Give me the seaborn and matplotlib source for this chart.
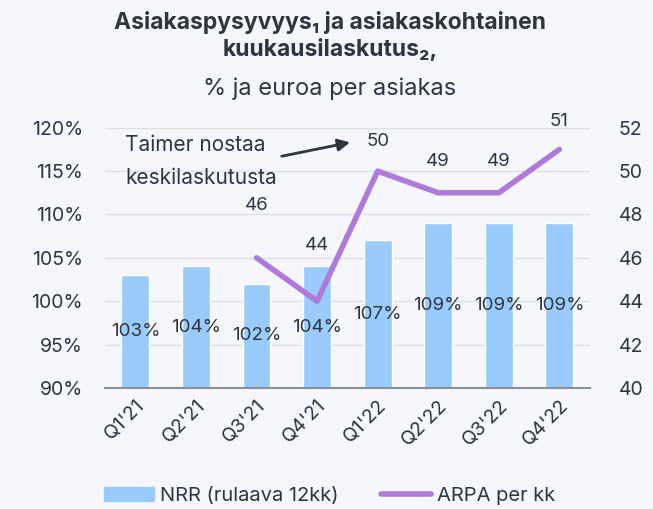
import numpy as np
import pandas as pd
import seaborn as sns
import matplotlib.pyplot as plt
from matplotlib.patches import Patch
from matplotlib.lines import Line2D

quarters = ["Q1'21", "Q2'21", "Q3'21", "Q4'21", "Q1'22", "Q2'22", "Q3'22", "Q4'22"]
nrr = [103, 104, 102, 104, 107, 109, 109, 109]
arpa = [np.nan, np.nan, 46, 44, 50, 49, 49, 51]

BG = "#F5F7FC"
TEXT = "#2E3640"
BAR = "#99CBFD"
LINE = "#AE7BDD"

sns.set_theme(style="white")
plt.rcParams["font.family"] = ["Inter", "DejaVu Sans"]
plt.rcParams["text.color"] = TEXT

df = pd.DataFrame({"quarter": quarters, "nrr": nrr, "arpa": arpa})
df["pos"] = np.arange(len(df))

fig = plt.figure(figsize=(6.53, 5.09), dpi=100, facecolor=BG)
ax = fig.add_axes([0.161, 0.238, 0.742, 0.511])
ax.set_facecolor(BG)

sns.barplot(data=df, x="quarter", y="nrr", color=BAR, width=0.46,
            saturation=1, ax=ax)
ax.set_ylim(90, 120)
ax.set_xlim(-0.5, 7.5)
ax.set_yticks(range(90, 121, 5))
ax.set_yticklabels([f"{v}%" for v in range(90, 121, 5)])
ax.bar_label(ax.containers[0], labels=[f"{v}%" for v in nrr],
             label_type="center", fontsize=13.5, color=TEXT)
ax.set_xlabel("")
ax.set_ylabel("")
ax.grid(axis="y", color="#DDDFE4", linewidth=1)
ax.set_axisbelow(True)
ax.tick_params(axis="both", length=0, labelsize=14, colors=TEXT)
ax.tick_params(axis="y", pad=16)
ax.tick_params(axis="x", pad=6)
plt.setp(ax.get_xticklabels(), rotation=45, ha="right", rotation_mode="anchor")
for s in ["top", "left", "right"]:
    ax.spines[s].set_visible(False)
ax.spines["bottom"].set_color("#8A8F96")
ax.spines["bottom"].set_linewidth(1.5)

ax2 = ax.twinx()
sns.lineplot(data=df.dropna(), x="pos", y="arpa", color=LINE, linewidth=4,
             ax=ax2)
ax2.set_ylim(40, 52)
ax2.set_yticks(range(40, 53, 2))
ax2.set_xlabel("")
ax2.set_ylabel("")
ax2.tick_params(axis="y", length=0, labelsize=14, colors=TEXT, pad=21)
for s in ax2.spines.values():
    s.set_visible(False)

offsets = {2: 52, 3: 56, 4: 30, 5: 31, 6: 31, 7: 28}
for i, v in zip(df["pos"], arpa):
    if np.isnan(v):
        continue
    ax2.annotate(f"{v:.0f}", (i, v), xytext=(0, offsets[i]),
                 textcoords="offset pixels", ha="center", va="center",
                 fontsize=13.5, color=TEXT)

ax2.annotate("", xy=(3.59, 51.35), xytext=(2.37, 50.66),
             arrowprops=dict(arrowstyle="-|>", color=TEXT, lw=2,
                             mutation_scale=18))
ax2.text(-0.17, 50.45, "Taimer nostaa\nkeskilaskutusta", ha="left",
         va="center", fontsize=15, color=TEXT, linespacing=1.85)

fig.text(0.505, 0.929, "Asiakaspysyvyys\u2081 ja asiakaskohtainen\nkuukausilaskutus\u2082,",
         ha="center", va="center", fontsize=16.5, fontweight="bold",
         color=TEXT, linespacing=1.25)
fig.text(0.505, 0.826, "% ja euroa per asiakas", ha="center", va="center",
         fontsize=17, color=TEXT)

handles = [Patch(color=BAR), Line2D([0], [0], color=LINE, lw=4)]
fig.legend(handles, ["NRR (rulaava 12kk)", "ARPA per kk"], loc="center",
           bbox_to_anchor=(0.505, 0.025), ncol=2, frameon=False,
           fontsize=14.5, handlelength=2.5, columnspacing=2.1,
           handletextpad=0.3)

fig.savefig("out.png", dpi=100, facecolor=BG)
